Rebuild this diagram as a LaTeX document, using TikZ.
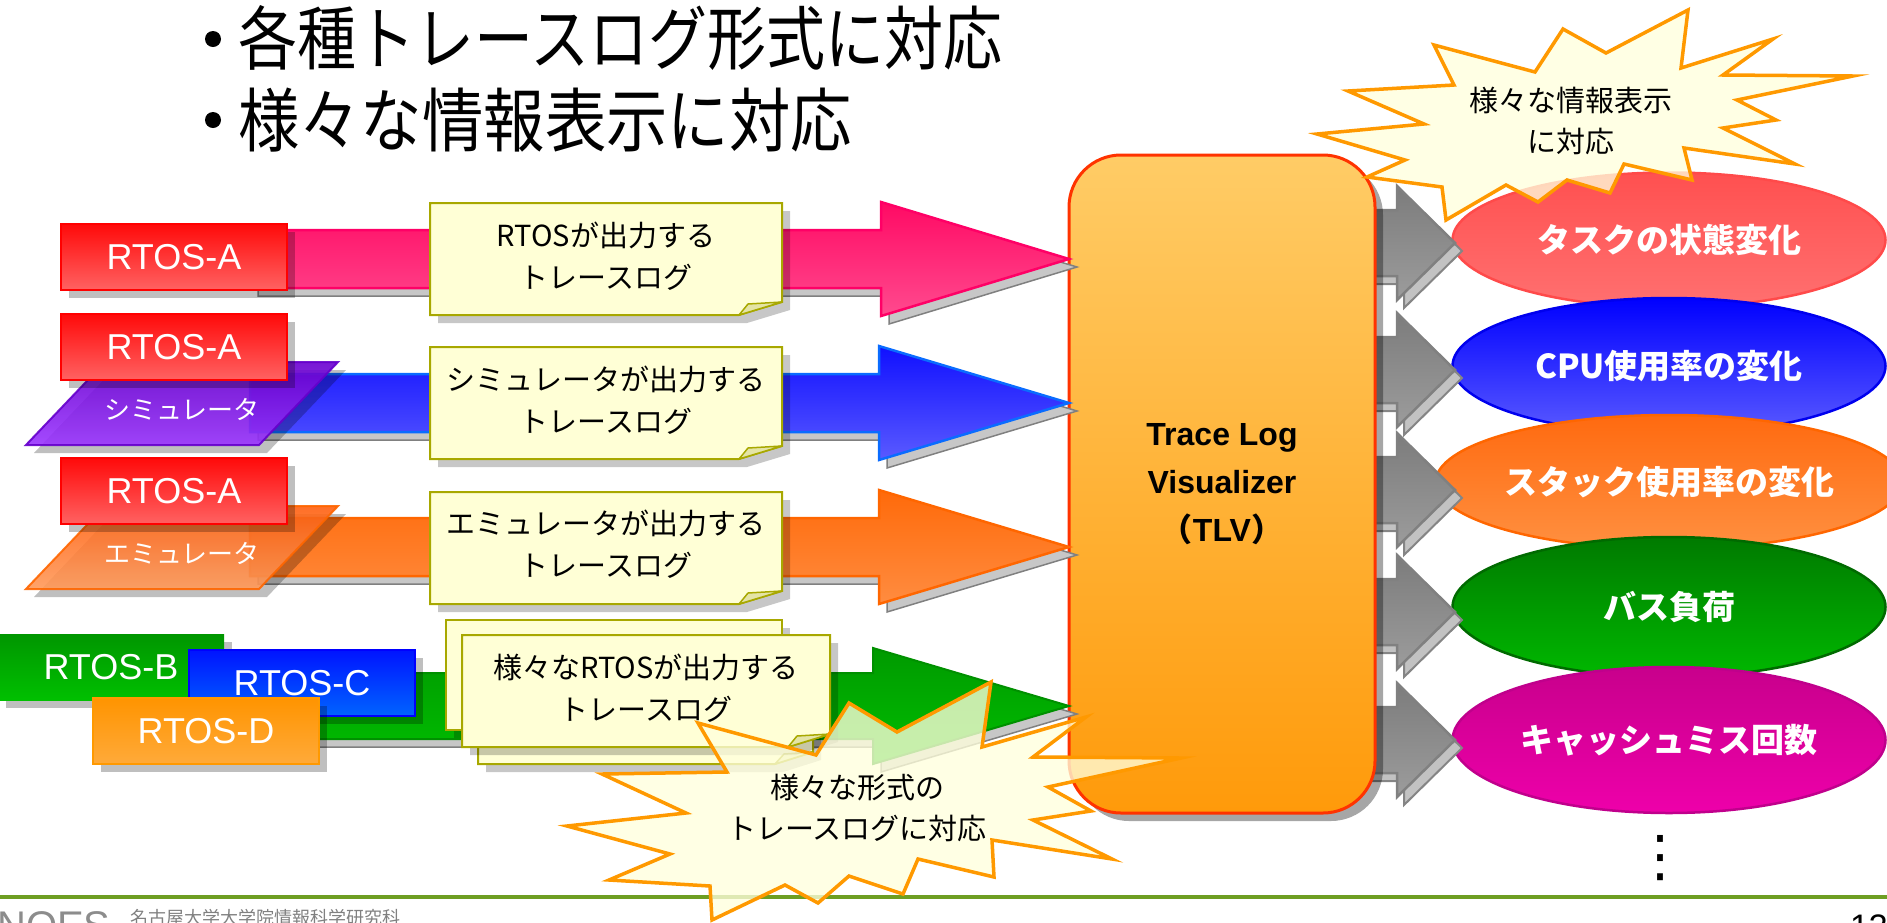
\documentclass[tikz,border=0pt]{standalone}
\usepackage{fontspec}
\newfontfamily\jp{Noto Sans CJK JP}
\newfontfamily\lsans{Liberation Sans}
\newfontfamily\djv{DejaVu Sans}
\usetikzlibrary{shadows,shapes.geometric}
\definecolor{notefill}{HTML}{FFFFD6}
\definecolor{noteedge}{HTML}{A8A800}
\definecolor{flapfill}{HTML}{E4E4A6}
\definecolor{burstfill}{HTML}{FFFFDC}
\definecolor{burstedge}{HTML}{FF9900}
\definecolor{footgreen}{HTML}{6E9E22}
\definecolor{pinkT}{HTML}{FF0A64}\definecolor{pinkB}{HTML}{FF4A8E}\definecolor{pinkE}{HTML}{FF0066}
\definecolor{blueT}{HTML}{1010FF}\definecolor{blueB}{HTML}{5A5AFF}\definecolor{blueE}{HTML}{0A6CFF}
\definecolor{orT}{HTML}{FF6A0A}\definecolor{orB}{HTML}{FF8C40}\definecolor{orE}{HTML}{FF6600}
\definecolor{grT}{HTML}{009A00}\definecolor{grB}{HTML}{00BE00}\definecolor{grE}{HTML}{009000}
\definecolor{gaT}{HTML}{7C7C7C}\definecolor{gaB}{HTML}{9C9C9C}\definecolor{gaE}{HTML}{808080}
\definecolor{rbT}{HTML}{FF0A0A}\definecolor{rbB}{HTML}{FF6262}\definecolor{rbE}{HTML}{FF0000}
\definecolor{simT}{HTML}{6A00D0}\definecolor{simB}{HTML}{9A35FF}\definecolor{simE}{HTML}{6600CC}
\definecolor{emuT}{HTML}{FF6010}\definecolor{emuB}{HTML}{FF9A5A}\definecolor{emuE}{HTML}{FF6600}
\definecolor{bT}{HTML}{009600}\definecolor{bB}{HTML}{00C000}
\definecolor{cT}{HTML}{0014FF}\definecolor{cB}{HTML}{0064FF}\definecolor{cE}{HTML}{0000FF}
\definecolor{dT}{HTML}{FF9400}\definecolor{dB}{HTML}{FFAA3A}\definecolor{dE}{HTML}{FF9900}
\definecolor{tlvT}{HTML}{FFCC66}\definecolor{tlvB}{HTML}{FF9A0A}\definecolor{tlvE}{HTML}{FF3300}
\definecolor{e1T}{HTML}{FF5050}\definecolor{e1B}{HTML}{FF7070}\definecolor{e1E}{HTML}{FF4A4A}
\definecolor{e2T}{HTML}{0000FF}\definecolor{e2B}{HTML}{5A5AFF}\definecolor{e2E}{HTML}{0000EE}
\definecolor{e3T}{HTML}{FF6A10}\definecolor{e3B}{HTML}{FF9040}\definecolor{e3E}{HTML}{FF6600}
\definecolor{e4T}{HTML}{007A00}\definecolor{e4B}{HTML}{00B800}\definecolor{e4E}{HTML}{006A00}
\definecolor{e5T}{HTML}{C8008C}\definecolor{e5B}{HTML}{EE00AA}\definecolor{e5E}{HTML}{C0008C}

\newcommand\BArrow[7]{\path[#1] (#2,#5-#6) -- (#3,#5-#6) -- (#3,#5-#7) -- (#4,#5) -- (#3,#5+#7) -- (#3,#5+#6) -- (#2,#5+#6) -- cycle;}
\newcommand\NoteShape[6]{%
  \begin{scope}[shift={(8,8)}]\fill[black,opacity=0.22] (#1,#2) -- (#3,#2) -- (#3,#6) -- (#5,#4) -- (#1,#4) -- cycle;\end{scope}
  \path[notebox] (#1,#2) -- (#3,#2) -- (#3,#6) -- (#5,#4) -- (#1,#4) -- cycle;
  \path[noteflap] (#5,#4) -- (#5+9,#6+2) -- (#3,#6) -- cycle;}

\begin{document}
\begin{tikzpicture}[x=1pt,y=-1pt,
  srcbox/.style={rectangle, minimum width=226pt, minimum height=66pt, inner sep=0pt, text=white,
    font=\lsans\fontsize{36}{40}\selectfont, line width=1.5pt,
    drop shadow={shadow xshift=8pt, shadow yshift=-8pt, fill=black, opacity=0.25}},
  paratext/.style={inner sep=0pt, text=white, font=\jp\fontsize{26}{30}\selectfont},
  parashadow/.style={fill=black, fill opacity=0.25, shift={(8,8)}},
  ashadow/.style={fill=black!22, draw=black!50, line width=1.5pt, shift={(8,8)}},
  gshadow/.style={fill=black!24, draw=black!48, line width=2pt, shift={(7,8)}},
  garrow/.style={top color=gaT, bottom color=gaB, draw=gaE, line width=2.5pt},
  notebox/.style={fill=notefill, draw=noteedge, line width=2pt},
  noteflap/.style={fill=flapfill, draw=noteedge, line width=1.5pt, line join=round},
  notetext/.style={align=center, inner sep=0pt, font=\jp\fontsize{29}{42}\selectfont},
  burst/.style={fill=burstfill, fill opacity=0.78, draw=burstedge, line width=3.5pt, line join=miter},
  bursttext/.style={align=center, inner sep=0pt, font=\jp\fontsize{29}{41}\selectfont},
  resnode/.style={ellipse, minimum width=433pt, inner sep=0pt, line width=2.5pt, text=white,
    font=\jp\bfseries\fontsize{33}{40}\selectfont},
  titletext/.style={anchor=west, inner sep=0pt, font=\jp\fontsize{59}{70}\selectfont}
]
\useasboundingbox (0,0) rectangle (1887,922);
\clip (0,0) rectangle (1887,922);

% footer
\draw[footgreen, line width=4pt] (0,897) -- (1887,897);
\node[anchor=north west, inner sep=0pt, text=black!45, font=\lsans\fontsize{40}{44}\selectfont] (noes) at (-3,911) {NOES};
\node[anchor=north west, inner sep=0pt, text=black!50, font=\jp\fontsize{18}{20}\selectfont] (univ) at (130,909) {名古屋大学大学院情報科学研究科};
\node[anchor=north east, inner sep=0pt, font=\lsans\fontsize{34}{40}\selectfont] (pg) at (1888,915) {13};

% title
\fill (213,39) circle (8);
\fill (213,120) circle (8);
\node[titletext] (title1) at (238,38) {\scalebox{1}[1.18]{各種トレースログ形式に対応}};
\node[titletext] (title2) at (238,120) {\scalebox{1.04}[1.18]{様々な情報表示に対応}};

% result ellipses
\node[resnode, minimum height=135pt, top color=e1T, bottom color=e1B, draw=e1E] (r1) at (1669,240) {タスクの状態変化};
\node[resnode, minimum height=136pt, top color=e2T, bottom color=e2B, draw=e2E] (r2) at (1669,366) {CPU使用率の変化};
\node[resnode, minimum height=134pt, top color=e3T, bottom color=e3B, draw=e3E] (r3) at (1669,482) {スタック使用率の変化};
\node[resnode, minimum height=140pt, top color=e4T, bottom color=e4B, draw=e4E] (r4) at (1669,607) {バス負荷};
\node[resnode, minimum height=146pt, top color=e5T, bottom color=e5B, draw=e5E] (r5) at (1669,740) {キャッシュミス回数};
\node[inner sep=0pt, font=\djv\fontsize{56}{60}\selectfont] (dots) at (1660,858) {⋮};

% gray output arrows
\foreach \yc in {243,370,490,612,740}{
  \BArrow{gshadow}{1360}{1397}{1455}{\yc}{33}{57}
  \BArrow{garrow}{1360}{1397}{1455}{\yc}{33}{57}
}

% TLV box
\node[draw=tlvE, line width=3pt, rounded corners=52pt, top color=tlvT, bottom color=tlvB,
  minimum width=306pt, minimum height=658pt, inner sep=0pt, align=center,
  font=\lsans\bfseries\fontsize{32}{48}\selectfont,
  drop shadow={shadow xshift=8pt, shadow yshift=-8pt, fill=black, opacity=0.35}]
  (tlv) at (1222,484) {Trace Log\\Visualizer\\{\jp （}TLV{\jp ）}};

% ---- row 1
\BArrow{ashadow}{250}{881}{1069}{259}{29}{57}
\BArrow{top color=pinkT, bottom color=pinkB, draw=pinkE, line width=2.5pt}{250}{881}{1069}{259}{29}{57}
\NoteShape{430}{203}{782}{315}{739}{302}
\node[notetext] (n1) at (606,256) {RTOSが出力する\\トレースログ};
\node[srcbox, top color=rbT, bottom color=rbB, draw=rbE] (a1) at (174,257) {RTOS-A};

% ---- row 2
\BArrow{ashadow}{250}{879}{1069}{403}{29}{57}
\BArrow{top color=blueT, bottom color=blueB, draw=blueE, line width=2.5pt}{250}{879}{1069}{403}{29}{57}
\NoteShape{430}{347}{782}{459}{739}{446}
\node[notetext] (n2) at (606,400) {シミュレータが出力する\\トレースログ};
\path[parashadow] (105,362) -- (338,362) -- (259,445) -- (26,445) -- cycle;
\path[top color=simT, bottom color=simB, draw=simE, line width=2pt, opacity=0.9] (105,362) -- (338,362) -- (259,445) -- (26,445) -- cycle;
\node[paratext] (sim) at (182,409) {シミュレータ};
\node[srcbox, top color=rbT, bottom color=rbB, draw=rbE] (a2) at (174,347) {RTOS-A};

% ---- row 3
\BArrow{ashadow}{250}{879}{1069}{547}{29}{57}
\BArrow{top color=orT, bottom color=orB, draw=orE, line width=2.5pt}{250}{879}{1069}{547}{29}{57}
\NoteShape{430}{492}{782}{604}{739}{591}
\node[notetext] (n3) at (606,544) {エミュレータが出力する\\トレースログ};
\path[parashadow] (105,506) -- (338,506) -- (259,589) -- (26,589) -- cycle;
\path[top color=emuT, bottom color=emuB, draw=emuE, line width=2pt, opacity=0.9] (105,506) -- (338,506) -- (259,589) -- (26,589) -- cycle;
\node[paratext] (emu) at (182,553) {エミュレータ};
\node[srcbox, top color=rbT, bottom color=rbB, draw=rbE] (a3) at (174,491) {RTOS-A};

% ---- row 4
\BArrow{ashadow}{250}{873}{1069}{706}{33}{58}
\BArrow{top color=grT, bottom color=grB, draw=grE, line width=2pt}{250}{873}{1069}{706}{33}{58}
\begin{scope}[shift={(8,8)}]\fill[black,opacity=0.22] (446,620) rectangle (782,730);\end{scope}
\path[notebox] (446,620) rectangle (782,730);
\NoteShape{478}{652}{813}{764}{775}{752}
\NoteShape{462}{635}{830}{747}{788}{734}
\node[notetext] (n4) at (646,688) {様々なRTOSが出力する\\トレースログ};
\node[srcbox, top color=bT, bottom color=bB, draw=none] (b) at (111,667) {RTOS-B};
\node[srcbox, top color=cT, bottom color=cB, draw=cE] (c) at (302,683) {RTOS-C};
\node[srcbox, top color=dT, bottom color=dB, draw=dE] (d) at (206,731) {RTOS-D};

% ---- bursts
\path[burst] (698,723) -- (727,772) -- (602,774) -- (686,813) -- (567,826) -- (670,854) -- (609,880) -- (710,886) -- (712,920) -- (785,885) -- (818,903) -- (849,876) -- (903,894) -- (918,859) -- (994,877) -- (992,840) -- (1112,859) -- (1033,820) -- (1091,811) -- (1048,787) -- (1181,758) -- (1033,757) -- (1086,717) -- (982,747) -- (991,682) -- (897,732) -- (849,703) -- (816,755) -- cycle;
\node[bursttext] (s1) at (857,808) {様々な形式の\\トレースログに対応};

\path[burst] (1434,45) -- (1535,72) -- (1563,29) -- (1606,53) -- (1688,10) -- (1681,68) -- (1773,39) -- (1723,75) -- (1853,76) -- (1737,100) -- (1776,120) -- (1723,128) -- (1795,164) -- (1684,148) -- (1692,180) -- (1624,164) -- (1610,193) -- (1567,180) -- (1538,202) -- (1506,185) -- (1446,220) -- (1442,187) -- (1367,177) -- (1405,160) -- (1317,134) -- (1424,124) -- (1348,91) -- (1454,85) -- cycle;
\node[bursttext] (s2) at (1571,121) {様々な情報表示\\に対応};
\end{tikzpicture}
\end{document}
